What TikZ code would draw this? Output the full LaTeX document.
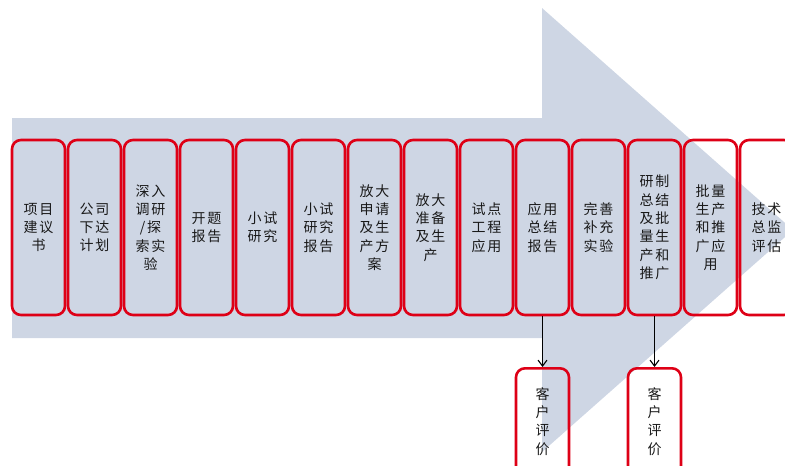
\documentclass[tikz,border=0pt]{standalone}
\usepackage{fontspec}
\newfontfamily\cjk[LetterSpace=12]{Noto Sans CJK SC}
\usetikzlibrary{arrows.meta}
\definecolor{arrowfill}{RGB}{206,214,228}
\definecolor{boxred}{RGB}{222,0,22}
\begin{document}
\begin{tikzpicture}[x=1pt,y=-1pt,
  stage/.style={draw=boxred, line width=2.6pt, rounded corners=9pt,
    minimum width=53pt, minimum height=175pt, inner sep=0pt, align=center,
    font=\cjk\fontsize{14}{18.3}\selectfont, text=black!90},
  review/.style={stage, minimum height=130pt, text depth=25pt, anchor=north},
  link/.style={-{Straight Barb[length=6pt,width=9pt]}, line width=1.1pt, black}]
\useasboundingbox (0,0) rectangle (785,466);
\clip (0,0) rectangle (785,466);
\fill[arrowfill] (12,118) -- (542,118) -- (542,8) -- (793,230) -- (542,452)
  -- (542,338) -- (12,338) -- cycle;
\node[stage] (s1)  at (38.5,227.5)  {项目\\建议\\书};
\node[stage] (s2)  at (94.5,227.5)  {公司\\下达\\计划};
\node[stage] (s3)  at (150.5,227.5) {深入\\调研\\/探\\索实\\验};
\node[stage] (s4)  at (206.5,227.5) {开题\\报告};
\node[stage] (s5)  at (262.5,227.5) {小试\\研究};
\node[stage] (s6)  at (318.5,227.5) {小试\\研究\\报告};
\node[stage] (s7)  at (374.5,227.5) {放大\\申请\\及生\\产方\\案};
\node[stage] (s8)  at (430.5,227.5) {放大\\准备\\及生\\产};
\node[stage] (s9)  at (486.5,227.5) {试点\\工程\\应用};
\node[stage] (s10) at (542.5,227.5) {应用\\总结\\报告};
\node[stage] (s11) at (598.5,227.5) {完善\\补充\\实验};
\node[stage] (s12) at (654.5,227.5) {研制\\总结\\及批\\量生\\产和\\推广};
\node[stage] (s13) at (710.5,227.5) {批量\\生产\\和推\\广应\\用};
\node[stage] (s14) at (766.5,227.5) {技术\\总监\\评估};
\node[review] (r1) at (542.5,367) {客\\户\\评\\价};
\node[review] (r2) at (654.5,367) {客\\户\\评\\价};
\draw[link] (s10.south) -- (r1.north);
\draw[link] (s12.south) -- (r2.north);
\end{tikzpicture}
\end{document}
